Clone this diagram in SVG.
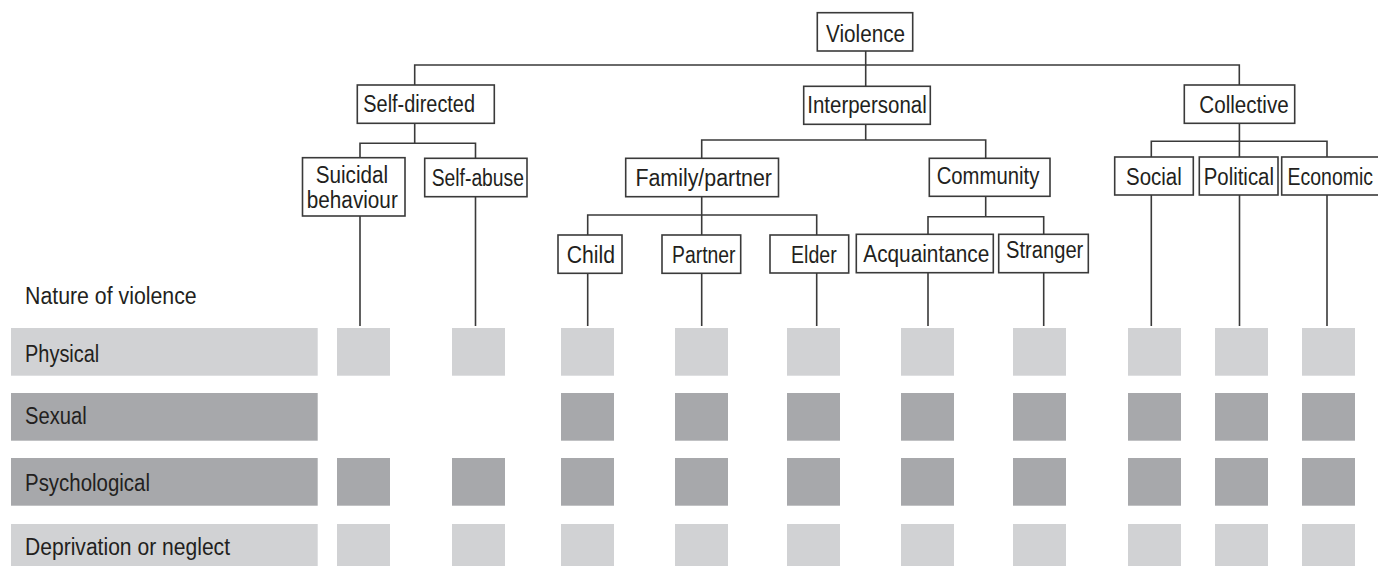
<svg xmlns="http://www.w3.org/2000/svg" width="1378" height="566" viewBox="0 0 1378 566">
<style>
.box{fill:#fff;stroke:#3a3a3a;stroke-width:1.6}
.lbl{font-family:"Liberation Sans",Arial,sans-serif;font-size:23px;fill:#231f20}
.con{fill:none;stroke:#3a3a3a;stroke-width:1.6}
.lt{fill:#d1d2d4}
.dk{fill:#a7a8ab}
</style>
<rect width="1378" height="566" fill="#fff"/>
<g id="connectors" class="con">
<path d="M865.7 51V86.3M414.7 85V65H1239.3V85"/>
<path d="M414.7 123.3V143.3M360 157.7V143.3H475.5V158.3"/>
<path d="M865.7 124.3V140M701.7 158.3V140H985.7V158.3"/>
<path d="M701.7 196.7V235M587.7 235V215H816.7V235"/>
<path d="M985.7 196.3V216.7M928 234.3V216.7H1043.7V234.3"/>
<path d="M1239.4 123.3V157M1151.3 157V141.3H1327V157"/>
<path d="M360 216V326M475.5 196.7V326M587.7 273.3V326M701.7 273.3V326M816.7 273V326M928 272.7V326M1043.7 272.7V326M1151.3 195V326M1239.5 195V326M1327 195V326"/>
</g>
<g id="n-violence"><rect class="box" x="817.3" y="12.7" width="95.4" height="38.3"/><text class="lbl" x="826" y="41.7" textLength="79" lengthAdjust="spacingAndGlyphs">Violence</text></g>
<g id="n-self-directed"><rect class="box" x="357.3" y="85" width="137" height="38.3"/><text class="lbl" x="363.3" y="112.3" textLength="111.7" lengthAdjust="spacingAndGlyphs">Self-directed</text></g>
<g id="n-interpersonal"><rect class="box" x="803.7" y="86.3" width="126.6" height="38"/><text class="lbl" x="807.3" y="112.7" textLength="119.4" lengthAdjust="spacingAndGlyphs">Interpersonal</text></g>
<g id="n-collective"><rect class="box" x="1184.3" y="85" width="110.4" height="38.3"/><text class="lbl" x="1199.3" y="112.7" textLength="89.4" lengthAdjust="spacingAndGlyphs">Collective</text></g>
<g id="n-suicidal"><rect class="box" x="302.5" y="157.7" width="102.5" height="58.3"/><text class="lbl" x="315.7" y="182.7" textLength="72.5" lengthAdjust="spacingAndGlyphs">Suicidal</text><text class="lbl" x="306.8" y="207.5" textLength="91" lengthAdjust="spacingAndGlyphs">behaviour</text></g>
<g id="n-self-abuse"><rect class="box" x="424.7" y="158.3" width="102.3" height="38.4"/><text class="lbl" x="431.7" y="185.7" textLength="92.3" lengthAdjust="spacingAndGlyphs">Self-abuse</text></g>
<g id="n-family"><rect class="box" x="625.7" y="158.3" width="152.8" height="38.4"/><text class="lbl" x="635.4" y="185.7" textLength="136.6" lengthAdjust="spacingAndGlyphs">Family/partner</text></g>
<g id="n-community"><rect class="box" x="929.3" y="158.3" width="120.7" height="38"/><text class="lbl" x="936.7" y="184.3" textLength="102.6" lengthAdjust="spacingAndGlyphs">Community</text></g>
<g id="n-social"><rect class="box" x="1114.7" y="157" width="78.6" height="38"/><text class="lbl" x="1126" y="185" textLength="55.7" lengthAdjust="spacingAndGlyphs">Social</text></g>
<g id="n-political"><rect class="box" x="1199.3" y="157" width="78.7" height="38"/><text class="lbl" x="1203.7" y="185" textLength="70.3" lengthAdjust="spacingAndGlyphs">Political</text></g>
<g id="n-economic"><rect class="box" x="1281.7" y="157" width="110" height="38"/><text class="lbl" x="1287.5" y="185" textLength="85.5" lengthAdjust="spacingAndGlyphs">Economic</text></g>
<g id="n-child"><rect class="box" x="558" y="235" width="64" height="38.3"/><text class="lbl" x="566.7" y="262.7" textLength="48.3" lengthAdjust="spacingAndGlyphs">Child</text></g>
<g id="n-partner"><rect class="box" x="662" y="235" width="78.7" height="38.3"/><text class="lbl" x="672" y="262.7" textLength="63.5" lengthAdjust="spacingAndGlyphs">Partner</text></g>
<g id="n-elder"><rect class="box" x="770" y="235" width="78.7" height="38"/><text class="lbl" x="791" y="262.7" textLength="45.7" lengthAdjust="spacingAndGlyphs">Elder</text></g>
<g id="n-acquaintance"><rect class="box" x="856.3" y="234.3" width="137" height="38.4"/><text class="lbl" x="863.3" y="261.7" textLength="126" lengthAdjust="spacingAndGlyphs">Acquaintance</text></g>
<g id="n-stranger"><rect class="box" x="998.7" y="234.3" width="89.6" height="38.4"/><text class="lbl" x="1006" y="258.3" textLength="77.3" lengthAdjust="spacingAndGlyphs">Stranger</text></g>
<g id="matrix">
<text class="lbl" x="25" y="304" textLength="171.7" lengthAdjust="spacingAndGlyphs">Nature of violence</text>
<g id="row-physical">
<rect class="lt" x="11" y="328" width="306.7" height="47.7"/>
<text class="lbl" x="25" y="361.5" textLength="74.3" lengthAdjust="spacingAndGlyphs">Physical</text>
<rect class="lt" x="337" y="328" width="53" height="47.7"/><rect class="lt" x="452" y="328" width="53" height="47.7"/><rect class="lt" x="561" y="328" width="53" height="47.7"/><rect class="lt" x="675" y="328" width="53" height="47.7"/><rect class="lt" x="787" y="328" width="53" height="47.7"/><rect class="lt" x="901" y="328" width="53" height="47.7"/><rect class="lt" x="1013" y="328" width="53" height="47.7"/><rect class="lt" x="1128" y="328" width="53" height="47.7"/><rect class="lt" x="1215" y="328" width="53" height="47.7"/><rect class="lt" x="1302" y="328" width="53" height="47.7"/>
</g>
<g id="row-sexual">
<rect class="dk" x="11" y="393" width="306.7" height="47.7"/>
<text class="lbl" x="25" y="424" textLength="61.7" lengthAdjust="spacingAndGlyphs">Sexual</text>
<rect class="dk" x="561" y="393" width="53" height="47.7"/><rect class="dk" x="675" y="393" width="53" height="47.7"/><rect class="dk" x="787" y="393" width="53" height="47.7"/><rect class="dk" x="901" y="393" width="53" height="47.7"/><rect class="dk" x="1013" y="393" width="53" height="47.7"/><rect class="dk" x="1128" y="393" width="53" height="47.7"/><rect class="dk" x="1215" y="393" width="53" height="47.7"/><rect class="dk" x="1302" y="393" width="53" height="47.7"/>
</g>
<g id="row-psychological">
<rect class="dk" x="11" y="458" width="306.7" height="47.7"/>
<text class="lbl" x="25" y="490.5" textLength="125" lengthAdjust="spacingAndGlyphs">Psychological</text>
<rect class="dk" x="337" y="458" width="53" height="47.7"/><rect class="dk" x="452" y="458" width="53" height="47.7"/><rect class="dk" x="561" y="458" width="53" height="47.7"/><rect class="dk" x="675" y="458" width="53" height="47.7"/><rect class="dk" x="787" y="458" width="53" height="47.7"/><rect class="dk" x="901" y="458" width="53" height="47.7"/><rect class="dk" x="1013" y="458" width="53" height="47.7"/><rect class="dk" x="1128" y="458" width="53" height="47.7"/><rect class="dk" x="1215" y="458" width="53" height="47.7"/><rect class="dk" x="1302" y="458" width="53" height="47.7"/>
</g>
<g id="row-deprivation">
<rect class="lt" x="11" y="524" width="306.7" height="47.7"/>
<text class="lbl" x="25" y="555" textLength="205" lengthAdjust="spacingAndGlyphs">Deprivation or neglect</text>
<rect class="lt" x="337" y="524" width="53" height="47.7"/><rect class="lt" x="452" y="524" width="53" height="47.7"/><rect class="lt" x="561" y="524" width="53" height="47.7"/><rect class="lt" x="675" y="524" width="53" height="47.7"/><rect class="lt" x="787" y="524" width="53" height="47.7"/><rect class="lt" x="901" y="524" width="53" height="47.7"/><rect class="lt" x="1013" y="524" width="53" height="47.7"/><rect class="lt" x="1128" y="524" width="53" height="47.7"/><rect class="lt" x="1215" y="524" width="53" height="47.7"/><rect class="lt" x="1302" y="524" width="53" height="47.7"/>
</g>
</g>
</svg>
